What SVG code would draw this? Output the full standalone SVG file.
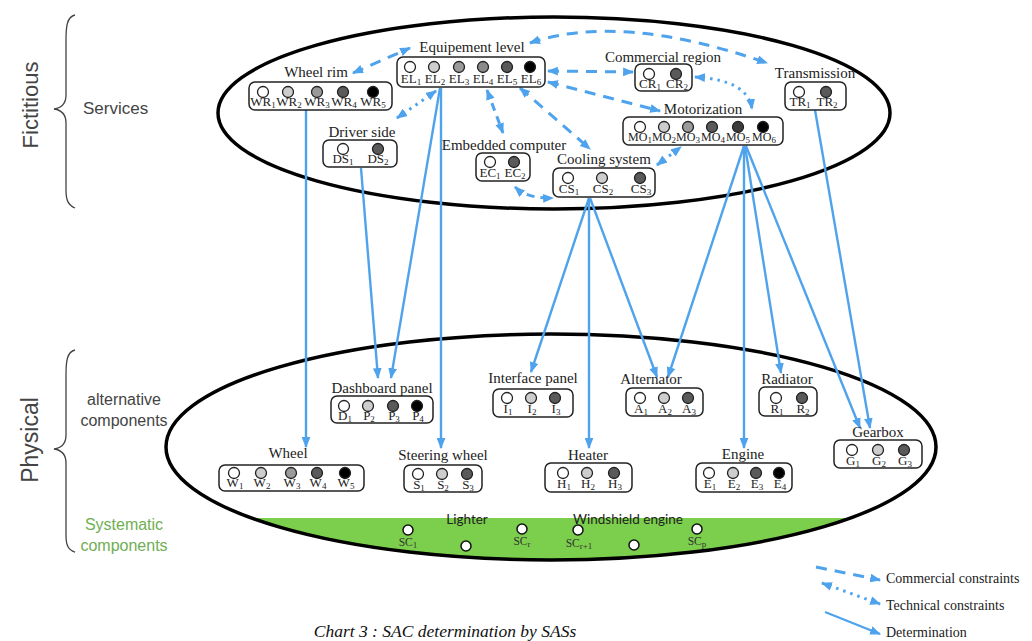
<svg xmlns="http://www.w3.org/2000/svg" width="1032" height="641" viewBox="0 0 1032 641">
<defs>
<style>
.title{font-family:"Liberation Serif","Times New Roman",serif;font-size:15px;fill:#222;text-anchor:middle}
.lbl{font-family:"Liberation Serif","Times New Roman",serif;font-size:13px;fill:#222;text-anchor:middle}
.lblm{font-family:"Liberation Serif","Times New Roman",serif;font-size:12px;fill:#222;text-anchor:middle}
.sub{font-size:9px}
.box{fill:#fff;stroke:#222;stroke-width:1.5}
.ci{stroke:#222;stroke-width:1.3}
.c0{fill:#fff}.c1{fill:#cdcdcd}.c2{fill:#9a9a9a}.c2b{fill:#8a8a8a}.c3{fill:#5a5a5a}.c4{fill:#3c3c3c}.c5{fill:#000}
.ell{fill:none;stroke:#000;stroke-width:3.5}
.brace{fill:none;stroke:#444;stroke-width:1.3}
.side{font-family:"Liberation Sans",Arial,sans-serif;fill:#444}
.det{fill:none;stroke:#4fa3ec;stroke-width:2.4}
.com{fill:none;stroke:#4fa3ec;stroke-width:3;stroke-dasharray:11 8}
.tec{fill:none;stroke:#4fa3ec;stroke-width:3;stroke-dasharray:2.5 5}
.sc{fill:#fff;stroke:#111;stroke-width:1.5}
.sclbl{font-family:"Liberation Serif","Times New Roman",serif;font-size:11.5px;fill:#333;text-anchor:middle}
.gl{font-family:Lato,"Liberation Sans",sans-serif;font-size:13.5px;fill:#222;text-anchor:middle}
.leg{font-family:"Liberation Serif","Times New Roman",serif;font-size:14px;fill:#222}
</style>
<marker id="ah" viewBox="0 0 10 8" refX="9" refY="4" markerWidth="11" markerHeight="9" markerUnits="userSpaceOnUse" orient="auto-start-reverse">
<path d="M0,0 L10,4 L0,8 z" fill="#4fa3ec"/>
</marker>
<clipPath id="lowclip"><ellipse cx="551" cy="447" rx="385" ry="113"/></clipPath>
</defs>
<rect x="0" y="0" width="1032" height="641" fill="#fff"/>

<g id="green-band" clip-path="url(#lowclip)">
<rect x="150" y="518" width="820" height="60" fill="#7ccf4c"/>
</g>
<g id="ellipses">
<ellipse class="ell" cx="554" cy="113" rx="336" ry="96"/>
<ellipse class="ell" cx="551" cy="447" rx="385" ry="113"/>
</g>

<g id="side-labels">
<path class="brace" d="M75,15 C67,17 66,26 66,40 L66,95 C66,104 61,108 54,109 C61,110 66,114 66,123 L66,190 C66,200 68,205 75,208"/>
<path class="brace" d="M75,350 C67,352 66,361 66,375 L66,435 C66,444 61,448 54,449 C61,450 66,454 66,463 L66,535 C66,545 68,550 75,552"/>
<text class="side" font-size="22" transform="translate(38,105) rotate(-90)" text-anchor="middle">Fictitious</text>
<text class="side" font-size="23" transform="translate(38,440) rotate(-90)" text-anchor="middle">Physical</text>
<text class="side" font-size="17" x="83" y="114">Services</text>
<text class="side" font-size="16" x="124" y="405" text-anchor="middle">alternative</text>
<text class="side" font-size="16" x="124" y="426" text-anchor="middle">components</text>
<text class="side" font-size="16" x="124" y="530" text-anchor="middle" style="fill:#6fae52">Systematic</text>
<text class="side" font-size="16" x="124" y="551" text-anchor="middle" style="fill:#6fae52">components</text>
</g>

<g id="connectors">
<path class="com" d="M353,73 L410,48" marker-start="url(#ah)" marker-end="url(#ah)"/>
<path class="com" d="M530,43 Q620,12 767,63" marker-start="url(#ah)" marker-end="url(#ah)"/>
<path class="com" d="M548,71 L633,72" marker-start="url(#ah)" marker-end="url(#ah)"/>
<path class="com" d="M548,82 L660,111" marker-start="url(#ah)" marker-end="url(#ah)"/>
<path class="com" d="M520,88 L590,149" marker-start="url(#ah)" marker-end="url(#ah)"/>
<path class="com" style="stroke-dasharray:8 6" d="M487,90 L503,133" marker-start="url(#ah)" marker-end="url(#ah)"/>
<path class="com" style="stroke-dasharray:8 6" d="M515,187 Q528,199 553,198" marker-start="url(#ah)" marker-end="url(#ah)"/>
<path class="tec" d="M397,118 L436,91" marker-start="url(#ah)" marker-end="url(#ah)"/>
<path class="tec" d="M695,77 Q748,80 752,109" marker-start="url(#ah)" marker-end="url(#ah)"/>
<path class="tec" d="M657,165 L681,147" marker-start="url(#ah)" marker-end="url(#ah)"/>
<path class="det" d="M306,110 L306,447" marker-end="url(#ah)"/>
<path class="det" d="M361,168 L378,378" marker-end="url(#ah)"/>
<path class="det" d="M440,88 L391,378" marker-end="url(#ah)"/>
<path class="det" d="M441,88 L441,448" marker-end="url(#ah)"/>
<path class="det" d="M589,198 L531,372" marker-end="url(#ah)"/>
<path class="det" d="M589,198 L589,448" marker-end="url(#ah)"/>
<path class="det" d="M590,198 L657,377" marker-end="url(#ah)"/>
<path class="det" d="M744,146 L668,377" marker-end="url(#ah)"/>
<path class="det" d="M744,146 L744,448" marker-end="url(#ah)"/>
<path class="det" d="M745,146 L781,373" marker-end="url(#ah)"/>
<path class="det" d="M746,146 L860,428" marker-end="url(#ah)"/>
<path class="det" d="M815,110 L870,428" marker-end="url(#ah)"/>
</g>

<g id="wheel-rim">
<text class="title" x="316" y="77">Wheel rim</text>
<rect class="box" x="249" y="82" width="143" height="28" rx="6"/>
<circle class="ci c0" cx="263" cy="92" r="5.5"/><circle class="ci c1" cx="288" cy="92" r="5.5"/><circle class="ci c2" cx="317" cy="92" r="5.5"/><circle class="ci c3" cx="343" cy="92" r="5.5"/><circle class="ci c5" cx="373" cy="92" r="5.5"/>
<text class="lbl" x="263" y="106">WR<tspan class="sub" dy="2">1</tspan></text>
<text class="lbl" x="289" y="106">WR<tspan class="sub" dy="2">2</tspan></text>
<text class="lbl" x="317" y="106">WR<tspan class="sub" dy="2">3</tspan></text>
<text class="lbl" x="344" y="106">WR<tspan class="sub" dy="2">4</tspan></text>
<text class="lbl" x="373" y="106">WR<tspan class="sub" dy="2">5</tspan></text>
</g>

<g id="equipement-level">
<text class="title" x="472" y="52">Equipement level</text>
<rect class="box" x="397" y="57" width="148" height="30" rx="6"/>
<circle class="ci c0" cx="410" cy="67" r="5.5"/><circle class="ci c1" cx="434" cy="67" r="5.5"/><circle class="ci c2" cx="459" cy="67" r="5.5"/><circle class="ci c2b" cx="483" cy="67" r="5.5"/><circle class="ci c3" cx="507" cy="67" r="5.5"/><circle class="ci c5" cx="530" cy="67" r="5.5"/>
<text class="lbl" x="411" y="83">EL<tspan class="sub" dy="2">1</tspan></text>
<text class="lbl" x="435" y="83">EL<tspan class="sub" dy="2">2</tspan></text>
<text class="lbl" x="459" y="83">EL<tspan class="sub" dy="2">3</tspan></text>
<text class="lbl" x="483" y="83">EL<tspan class="sub" dy="2">4</tspan></text>
<text class="lbl" x="507" y="83">EL<tspan class="sub" dy="2">5</tspan></text>
<text class="lbl" x="531" y="83">EL<tspan class="sub" dy="2">6</tspan></text>
</g>

<g id="driver-side">
<text class="title" x="362" y="137">Driver side</text>
<rect class="box" x="323" y="140" width="74" height="27" rx="6"/>
<circle class="ci c0" cx="343" cy="149" r="5.5"/><circle class="ci c3" cx="378" cy="149" r="5.5"/>
<text class="lbl" x="343" y="163">DS<tspan class="sub" dy="2">1</tspan></text>
<text class="lbl" x="378" y="163">DS<tspan class="sub" dy="2">2</tspan></text>
</g>

<g id="embedded-computer">
<text class="title" x="504" y="150">Embedded computer</text>
<rect class="box" x="476" y="153" width="54" height="28" rx="6"/>
<circle class="ci c0" cx="490" cy="162" r="5.5"/><circle class="ci c3" cx="514" cy="162" r="5.5"/>
<text class="lbl" x="490" y="177">EC<tspan class="sub" dy="2">1</tspan></text>
<text class="lbl" x="515" y="177">EC<tspan class="sub" dy="2">2</tspan></text>
</g>

<g id="cooling-system">
<text class="title" x="604" y="164">Cooling system</text>
<rect class="box" x="553" y="168" width="102" height="29" rx="6"/>
<circle class="ci c0" cx="568" cy="178" r="5.5"/><circle class="ci c1" cx="602" cy="178" r="5.5"/><circle class="ci c3" cx="640" cy="178" r="5.5"/>
<text class="lbl" x="569" y="193">CS<tspan class="sub" dy="2">1</tspan></text>
<text class="lbl" x="603" y="193">CS<tspan class="sub" dy="2">2</tspan></text>
<text class="lbl" x="641" y="193">CS<tspan class="sub" dy="2">3</tspan></text>
</g>

<g id="commercial-region">
<text class="title" x="663" y="62">Commercial region</text>
<rect class="box" x="635" y="64" width="57" height="27" rx="6"/>
<circle class="ci c0" cx="649" cy="74" r="5.5"/><circle class="ci c3" cx="676" cy="74" r="5.5"/>
<text class="lbl" x="650" y="88">CR<tspan class="sub" dy="2">1</tspan></text>
<text class="lbl" x="677" y="88">CR<tspan class="sub" dy="2">2</tspan></text>
</g>

<g id="motorization">
<text class="title" x="703" y="114">Motorization</text>
<rect class="box" x="623" y="117" width="160" height="28" rx="6"/>
<circle class="ci c0" cx="640" cy="127" r="5.5"/><circle class="ci c1" cx="664" cy="127" r="5.5"/><circle class="ci c2" cx="688" cy="127" r="5.5"/><circle class="ci c3" cx="712" cy="127" r="5.5"/><circle class="ci c4" cx="738" cy="127" r="5.5"/><circle class="ci c5" cx="763" cy="127" r="5.5"/>
<text class="lblm" x="640" y="141">MO<tspan class="sub" dy="2">1</tspan></text>
<text class="lblm" x="664" y="141">MO<tspan class="sub" dy="2">2</tspan></text>
<text class="lblm" x="688" y="141">MO<tspan class="sub" dy="2">3</tspan></text>
<text class="lblm" x="713" y="141">MO<tspan class="sub" dy="2">4</tspan></text>
<text class="lblm" x="738" y="141">MO<tspan class="sub" dy="2">5</tspan></text>
<text class="lblm" x="764" y="141">MO<tspan class="sub" dy="2">6</tspan></text>
</g>

<g id="transmission">
<text class="title" x="815" y="78">Transmission</text>
<rect class="box" x="785" y="82" width="61" height="28" rx="6"/>
<circle class="ci c0" cx="799" cy="92" r="5.5"/><circle class="ci c3" cx="826" cy="92" r="5.5"/>
<text class="lbl" x="800" y="106">TR<tspan class="sub" dy="2">1</tspan></text>
<text class="lbl" x="827" y="106">TR<tspan class="sub" dy="2">2</tspan></text>
</g>

<g id="dashboard-panel">
<text class="title" x="382" y="393">Dashboard panel</text>
<rect class="box" x="331" y="396" width="102" height="27" rx="6"/>
<circle class="ci c0" cx="344" cy="406" r="5.5"/><circle class="ci c1" cx="368" cy="406" r="5.5"/><circle class="ci c3" cx="393" cy="406" r="5.5"/><circle class="ci c5" cx="417" cy="406" r="5.5"/>
<text class="lbl" x="345" y="420">D<tspan class="sub" dy="2">1</tspan></text>
<text class="lbl" x="369" y="420">P<tspan class="sub" dy="2">2</tspan></text>
<text class="lbl" x="394" y="420">P<tspan class="sub" dy="2">3</tspan></text>
<text class="lbl" x="418" y="420">P<tspan class="sub" dy="2">4</tspan></text>
</g>

<g id="interface-panel">
<text class="title" x="533" y="383">Interface panel</text>
<rect class="box" x="493" y="389" width="80" height="28" rx="6"/>
<circle class="ci c0" cx="507" cy="398" r="5.5"/><circle class="ci c1" cx="531" cy="398" r="5.5"/><circle class="ci c3" cx="555" cy="398" r="5.5"/>
<text class="lbl" x="508" y="413">I<tspan class="sub" dy="2">1</tspan></text>
<text class="lbl" x="532" y="413">I<tspan class="sub" dy="2">2</tspan></text>
<text class="lbl" x="556" y="413">I<tspan class="sub" dy="2">3</tspan></text>
</g>

<g id="alternator">
<text class="title" x="651" y="384">Alternator</text>
<rect class="box" x="626" y="388" width="77" height="28" rx="6"/>
<circle class="ci c0" cx="640" cy="398" r="5.5"/><circle class="ci c1" cx="664" cy="398" r="5.5"/><circle class="ci c3" cx="688" cy="398" r="5.5"/>
<text class="lbl" x="641" y="413">A<tspan class="sub" dy="2">1</tspan></text>
<text class="lbl" x="665" y="413">A<tspan class="sub" dy="2">2</tspan></text>
<text class="lbl" x="689" y="413">A<tspan class="sub" dy="2">3</tspan></text>
</g>

<g id="radiator">
<text class="title" x="787" y="384">Radiator</text>
<rect class="box" x="759" y="387" width="58" height="29" rx="6"/>
<circle class="ci c0" cx="776" cy="398" r="5.5"/><circle class="ci c3" cx="802" cy="398" r="5.5"/>
<text class="lbl" x="777" y="413">R<tspan class="sub" dy="2">1</tspan></text>
<text class="lbl" x="803" y="413">R<tspan class="sub" dy="2">2</tspan></text>
</g>

<g id="gearbox">
<text class="title" x="878" y="437">Gearbox</text>
<rect class="box" x="834" y="440" width="88" height="28" rx="6"/>
<circle class="ci c0" cx="852" cy="450" r="5.5"/><circle class="ci c1" cx="878" cy="450" r="5.5"/><circle class="ci c3" cx="904" cy="450" r="5.5"/>
<text class="lbl" x="853" y="465">G<tspan class="sub" dy="2">1</tspan></text>
<text class="lbl" x="879" y="465">G<tspan class="sub" dy="2">2</tspan></text>
<text class="lbl" x="905" y="465">G<tspan class="sub" dy="2">3</tspan></text>
</g>

<g id="engine">
<text class="title" x="743" y="459">Engine</text>
<rect class="box" x="696" y="463" width="96" height="29" rx="6"/>
<circle class="ci c0" cx="709" cy="473" r="5.5"/><circle class="ci c1" cx="733" cy="473" r="5.5"/><circle class="ci c3" cx="756" cy="473" r="5.5"/><circle class="ci c5" cx="779" cy="473" r="5.5"/>
<text class="lbl" x="710" y="488">E<tspan class="sub" dy="2">1</tspan></text>
<text class="lbl" x="734" y="488">E<tspan class="sub" dy="2">2</tspan></text>
<text class="lbl" x="757" y="488">E<tspan class="sub" dy="2">3</tspan></text>
<text class="lbl" x="780" y="488">E<tspan class="sub" dy="2">4</tspan></text>
</g>

<g id="heater">
<text class="title" x="588" y="460">Heater</text>
<rect class="box" x="545" y="463" width="87" height="29" rx="6"/>
<circle class="ci c0" cx="563" cy="473" r="5.5"/><circle class="ci c1" cx="587" cy="473" r="5.5"/><circle class="ci c3" cx="614" cy="473" r="5.5"/>
<text class="lbl" x="564" y="488">H<tspan class="sub" dy="2">1</tspan></text>
<text class="lbl" x="588" y="488">H<tspan class="sub" dy="2">2</tspan></text>
<text class="lbl" x="615" y="488">H<tspan class="sub" dy="2">3</tspan></text>
</g>

<g id="steering-wheel">
<text class="title" x="443" y="460">Steering wheel</text>
<rect class="box" x="404" y="465" width="78" height="27" rx="6"/>
<circle class="ci c0" cx="418" cy="474" r="5.5"/><circle class="ci c1" cx="442" cy="474" r="5.5"/><circle class="ci c3" cx="467" cy="474" r="5.5"/>
<text class="lbl" x="419" y="489">S<tspan class="sub" dy="2">1</tspan></text>
<text class="lbl" x="443" y="489">S<tspan class="sub" dy="2">2</tspan></text>
<text class="lbl" x="468" y="489">S<tspan class="sub" dy="2">3</tspan></text>
</g>

<g id="wheel">
<text class="title" x="288" y="458">Wheel</text>
<rect class="box" x="219" y="465" width="145" height="26" rx="6"/>
<circle class="ci c0" cx="234" cy="473" r="5.5"/><circle class="ci c1" cx="261" cy="473" r="5.5"/><circle class="ci c2" cx="291" cy="473" r="5.5"/><circle class="ci c3" cx="317" cy="473" r="5.5"/><circle class="ci c5" cx="345" cy="473" r="5.5"/>
<text class="lbl" x="235" y="487">W<tspan class="sub" dy="2">1</tspan></text>
<text class="lbl" x="262" y="487">W<tspan class="sub" dy="2">2</tspan></text>
<text class="lbl" x="292" y="487">W<tspan class="sub" dy="2">3</tspan></text>
<text class="lbl" x="318" y="487">W<tspan class="sub" dy="2">4</tspan></text>
<text class="lbl" x="346" y="487">W<tspan class="sub" dy="2">5</tspan></text>
</g>

<g id="systematic-components">
<text class="gl" x="467" y="524">Lighter</text>
<text class="gl" x="628" y="524">Windshield engine</text>
<circle class="sc" cx="408" cy="530" r="5"/>
<circle class="sc" cx="466" cy="546" r="5"/>
<circle class="sc" cx="522" cy="529" r="5"/>
<circle class="sc" cx="578" cy="530" r="5"/>
<circle class="sc" cx="634" cy="545" r="5"/>
<circle class="sc" cx="697" cy="529" r="5"/>
<text class="sclbl" x="408" y="546">SC<tspan class="sub" dy="2">1</tspan></text>
<text class="sclbl" x="522" y="545">SC<tspan class="sub" dy="2">r</tspan></text>
<text class="sclbl" x="579" y="547">SC<tspan class="sub" dy="2">r+1</tspan></text>
<text class="sclbl" x="697" y="545">SC<tspan class="sub" dy="2">p</tspan></text>
</g>

<g id="legend">
<path class="com" d="M816,567 L880,580" marker-end="url(#ah)"/>
<path class="tec" d="M822,583 L880,604" marker-start="url(#ah)" marker-end="url(#ah)"/>
<path class="det" d="M825,612 L880,634" marker-end="url(#ah)"/>
<text class="leg" x="886" y="583">Commercial constraints</text>
<text class="leg" x="886" y="610">Technical constraints</text>
<text class="leg" x="886" y="637">Determination</text>
</g>

<text x="445" y="637" font-family="'Liberation Serif','Times New Roman',serif" font-style="italic" font-size="17.5" fill="#111" text-anchor="middle">Chart 3 : SAC determination by SASs</text>
</svg>
